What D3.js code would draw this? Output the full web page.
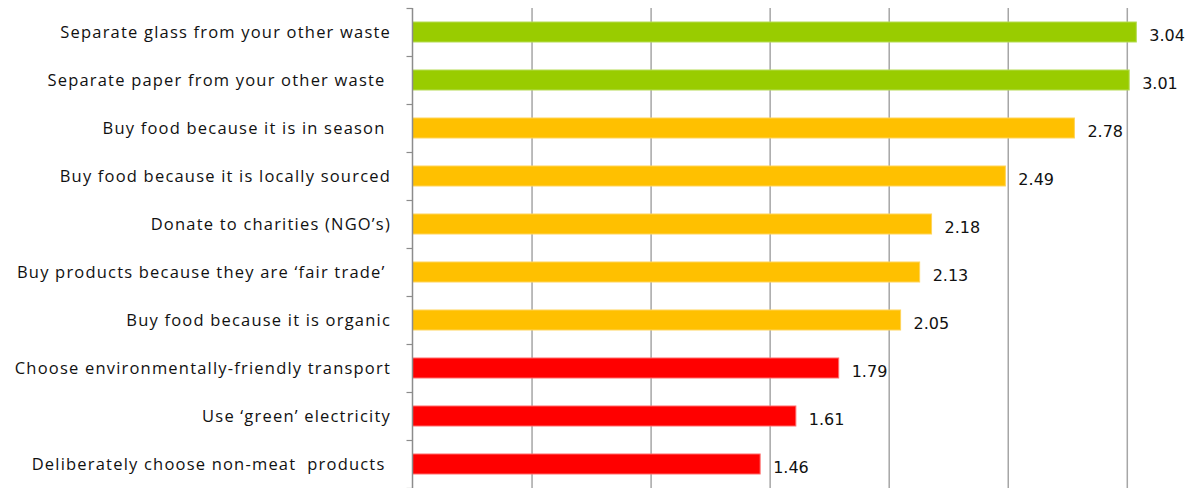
<!DOCTYPE html>
<html><head><meta charset="utf-8">
<script src="https://cdn.jsdelivr.net/npm/d3@7"></script>
<style>
html,body{margin:0;padding:0;background:#fff;overflow:hidden}
svg{display:block}
</style></head>
<body>
<svg id="chart" width="1195" height="488"></svg>
<script>
const categories = [
  "Separate glass from your other waste",
  "Separate paper from your other waste ",
  "Buy food because it is in season ",
  "Buy food because it is locally sourced",
  "Donate to charities (NGO\u2019s)",
  "Buy products because they are \u2018fair trade\u2019 ",
  "Buy food because it is organic",
  "Choose environmentally-friendly transport",
  "Use \u2018green\u2019 electricity",
  "Deliberately choose non-meat  products "
];
const values = [3.04, 3.01, 2.78, 2.49, 2.18, 2.13, 2.05, 1.79, 1.61, 1.46];
const groups = ["green","green","amber","amber","amber","amber","amber","red","red","red"];
const xTicks = [0.5, 1, 1.5, 2, 2.5, 3, 3.5];

const fills = {green:"#99CC00", amber:"#FFC000", red:"#FF0000"};
const strokes = {green:"#b5dc55", amber:"#ffd45a", red:"#ff6b6b"};

const svg = d3.select("#chart");
const mLeft = 412.5, mTop = 8, mBottom = 488;
const x = d3.scaleLinear().domain([0, 3.5]).range([mLeft, mLeft + 3.5*238.1]);
const y = d3.scaleBand().domain(categories).range([mTop, mBottom]).paddingInner(0.5833).paddingOuter(0.2917);
const yIdx = d3.scaleLinear().domain([0, categories.length]).range([mTop, mBottom]);

// gridlines
svg.append("g")
  .attr("transform", `translate(0,${mTop})`)
  .call(d3.axisBottom(x).tickValues(xTicks).tickSize(mBottom - mTop + 10).tickFormat(""))
  .call(g => g.select(".domain").remove())
  .call(g => g.selectAll("line").attr("stroke", "#a6a6a6").attr("stroke-width", 1.5));

// bars
svg.append("g").selectAll("rect").data(values).join("rect")
  .attr("x", x(0))
  .attr("y", (d,i) => y(categories[i]))
  .attr("width", d => x(d) - x(0))
  .attr("height", y.bandwidth())
  .attr("fill", (d,i) => fills[groups[i]])
  .attr("stroke", (d,i) => strokes[groups[i]])
  .attr("stroke-width", 1);

// category axis (ticks at boundaries)
svg.append("g")
  .attr("transform", `translate(${mLeft},0)`)
  .call(d3.axisLeft(yIdx).tickValues(d3.range(categories.length + 1)).tickSizeInner(6).tickSizeOuter(0).tickFormat(""))
  .call(g => g.select(".domain").attr("d", `M0,${mTop}V${mBottom + 10}`).attr("stroke", "#8c8c8c").attr("stroke-width", 1.5))
  .call(g => g.selectAll("line").attr("stroke", "#8c8c8c").attr("stroke-width", 1.2));

// category labels
svg.append("g").selectAll("text").data(categories).join("text")
  .attr("x", 391)
  .attr("y", d => y(d) + y.bandwidth()/2)
  .attr("dy", "0.35em")
  .attr("text-anchor", "end")
  .attr("xml:space", "preserve")
  .style("white-space", "pre")
  .style("letter-spacing", "1.2px")
  .attr("font-family", "'Open Sans', sans-serif")
  .attr("font-size", 16.5)
  .attr("fill", "#111")
  .text(d => d);

// value labels
svg.append("g").selectAll("text").data(values).join("text")
  .attr("x", d => x(d) + 13)
  .attr("y", (d,i) => y(categories[i]) + y.bandwidth()/2 + 3.5)
  .attr("dy", "0.35em")
  .attr("font-family", "'DejaVu Sans', sans-serif")
  .attr("font-size", 16)
  .attr("fill", "#111")
  .text(d => d3.format(".2f")(d));
</script>
</body></html>
